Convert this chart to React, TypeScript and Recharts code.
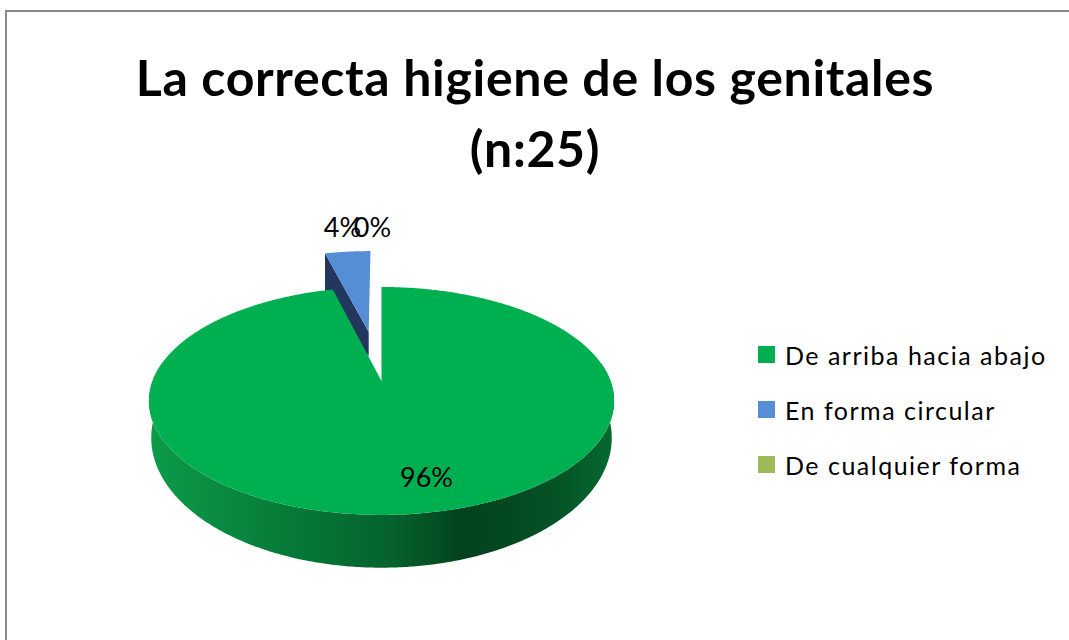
import { PieChart, Pie, Legend } from 'recharts';

const titleLines = ['La correcta higiene de los genitales', '(n:25)'];
const categories = ['De arriba hacia abajo', 'En forma circular', 'De cualquier forma'];
const percents = [96, 4, 0];
const colors = ['#00B050', '#558ED5', '#9BBB59'];
const sideColors = ['url(#greenSide)', '#23365E', '#6E8A3A'];
const explodes = [0, 0.484, 0];

// label centre, relative to the pie centre
const labelOffsets = [
  [45, 95],
  [-39, -155],
  [-9, -155],
];

const FONT = 'Lato, sans-serif';
const CX = 381.5;
const CY = 381;

// perspective of the tilted disc
const TILT = -0.175;
const SQUASH = 0.4825;
const DROP = 34;
const LOWER_Y = 1.14;
const LOWER_X = 0.99;

// the slices are handed over back to front, so the big one paints last
const pieData = categories
  .map((name, i) => ({ name, value: percents[i], index: i }))
  .reverse();

const project = (props: any, u: number, v: number, lower: boolean) => {
  const w = 1 + TILT * v;
  const r = props.outerRadius;
  const x = (r * u) / w;
  const y = (r * SQUASH * v) / w;
  if (lower) return [props.cx + x * LOWER_X, props.cy + DROP + y * LOWER_Y];
  return [props.cx + x, props.cy + y];
};

const toPath = (pts: number[][]) =>
  'M' + pts.map((p) => p[0].toFixed(2) + ' ' + p[1].toFixed(2)).join('L') + 'Z';

const Slice3D = (props: any) => {
  const { startAngle, endAngle, payload } = props;
  if (endAngle - startAngle <= 0) return null;
  const idx = payload.index;
  const mid = (((startAngle + endAngle) / 2) * Math.PI) / 180;
  const e = explodes[idx];
  const ou = Math.cos(mid) * e;
  const ov = -Math.sin(mid) * e;

  const rim: number[][] = [];
  const steps = Math.ceil(endAngle - startAngle) * 2;
  for (let i = 0; i <= steps; i++) {
    const a = ((startAngle + ((endAngle - startAngle) * i) / steps) * Math.PI) / 180;
    rim.push([ou + Math.cos(a), ov - Math.sin(a)]);
  }

  const top = [[ou, ov], ...rim].map((p) => project(props, p[0], p[1], false));

  let side: number[][];
  if (e > 0) {
    // cut face of the pulled out slice, runs down behind the big slice
    const last = rim[rim.length - 1];
    const outer = project(props, last[0], last[1], false);
    const inner = project(props, ou, ov, false);
    side = [outer, inner, [inner[0], inner[1] + 24], [outer[0], outer[1] + 50]];
  } else {
    const front = rim.filter((p) => p[1] > TILT);
    side = [
      ...front.map((p) => project(props, p[0], p[1], false)),
      ...front
        .slice()
        .reverse()
        .map((p) => project(props, p[0], p[1], true)),
    ];
  }

  return (
    <g>
      <defs>
        <linearGradient id='greenSide' gradientUnits='userSpaceOnUse' x1='150' y1='0' x2='615' y2='0'>
          <stop offset='0' stopColor='#0C9B49' />
          <stop offset='0.3' stopColor='#067A38' />
          <stop offset='0.52' stopColor='#05622E' />
          <stop offset='0.675' stopColor='#03421C' />
          <stop offset='0.85' stopColor='#044F24' />
          <stop offset='1' stopColor='#056A30' />
        </linearGradient>
      </defs>
      <path d={toPath(side)} fill={sideColors[idx]} />
      <path d={toPath(top)} fill={colors[idx]} />
    </g>
  );
};

const renderLabel = (props: any) => {
  const idx = props.payload.index;
  return (
    <text
      key={idx}
      x={props.cx + labelOffsets[idx][0]}
      y={props.cy + labelOffsets[idx][1]}
      textAnchor='middle'
      dominantBaseline='central'
      fontFamily={FONT}
      fontSize={27}
      fill='#000'
    >
      {percents[idx]}%
    </text>
  );
};

const LegendBox = () => (
  <div style={{ fontFamily: FONT, fontSize: 25, color: '#000' }}>
    {categories.map((c, i) => (
      <div key={c} style={{ display: 'flex', alignItems: 'center', height: 55, whiteSpace: 'nowrap' }}>
        <span style={{ width: 17, height: 17, background: colors[i], marginRight: 10 }} />
        <span style={{ letterSpacing: '1.5px' }}>{c}</span>
      </div>
    ))}
  </div>
);

const App = () => {
  return (
    <div style={{ position: 'absolute', left: 0, top: 0, width: 1069, height: 640, overflow: 'hidden', background: '#fff' }}>
      <div
        style={{
          position: 'absolute',
          left: 5,
          top: 10,
          width: 1069,
          height: 640,
          borderTop: '2px solid #8A8A8A',
          borderLeft: '2px solid #8A8A8A',
        }}
      />
      <div
        style={{
          position: 'absolute',
          left: 0,
          top: 42,
          width: 1070,
          textAlign: 'center',
          fontFamily: FONT,
          fontWeight: 700,
          fontSize: 50,
          letterSpacing: '0.67px',
          lineHeight: '71px',
          color: '#000',
        }}
      >
        {titleLines.map((t) => (
          <div key={t}>{t}</div>
        ))}
      </div>
      <PieChart
        width={1069}
        height={640}
        margin={{ top: 0, right: 0, bottom: 0, left: 0 }}
        style={{ position: 'absolute', left: 0, top: 0 }}
      >
        <Pie
          data={pieData}
          dataKey='value'
          nameKey='name'
          cx={CX}
          cy={CY}
          outerRadius={229}
          startAngle={90}
          endAngle={450}
          stroke='none'
          shape={Slice3D}
          label={renderLabel}
          labelLine={false}
          isAnimationActive={false}
        />
        <Legend
          layout='vertical'
          align='right'
          verticalAlign='top'
          content={<LegendBox />}
          wrapperStyle={{ left: 758, top: 327, width: 311, right: 'auto' }}
        />
      </PieChart>
    </div>
  );
};

export default App;
